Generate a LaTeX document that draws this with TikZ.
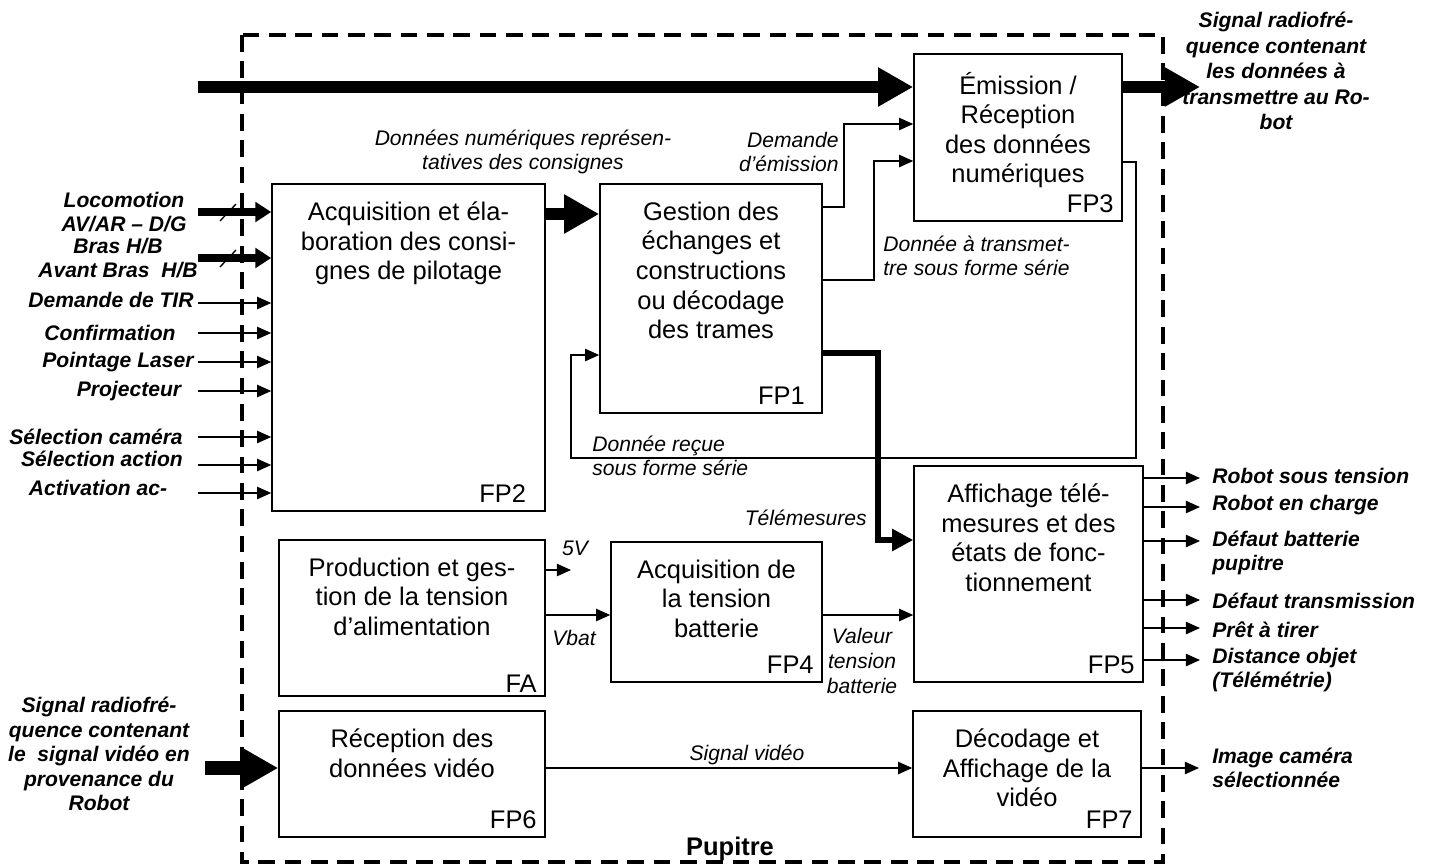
\documentclass[tikz,border=0pt]{standalone}
\usepackage{fontspec}
\setmainfont{Liberation Sans}
\usetikzlibrary{arrows.meta,positioning,fit}

\begin{document}
\begin{tikzpicture}[x=0.02cm,y=-0.02cm,
        bloc/.style={draw,line width=0.9pt,inner sep=0pt},
        titre/.style={align=center,inner sep=0pt,font=\fontsize{14.5}{16.8}\selectfont},
        num/.style={anchor=south east,inner xsep=5pt,inner ysep=5pt,font=\fontsize{14.5}{17}\selectfont},
        lbl/.style={inner sep=0pt,font=\fontsize{12}{14}\selectfont\itshape},
        ext/.style={inner sep=0pt,font=\fontsize{12}{13.5}\selectfont\bfseries\itshape},
        fleche/.style={line width=0.75pt,-{Triangle[length=8pt,width=7pt]}},
        bus/.style={line width=4pt,-{Triangle[length=9pt,width=11pt]}},
        gros/.style={line width=6.8pt,-{Triangle[length=20pt,width=21pt]}},
        tele/.style={line width=3.6pt,-{Triangle[length=12pt,width=12pt]}}]
        \useasboundingbox (0,0) rectangle (1431,866);

        \draw[line width=2pt,dash pattern=on 9.5pt off 5.5pt] (242,35) rectangle (1163,862);
        \node[font=\fontsize{14.5}{16}\selectfont\bfseries,inner sep=0pt] (lp) at (730,849) {Pupitre};

        \node[bloc,fit={(272,184) (545,511)}] (fp2) {};
        \node[bloc,fit={(600,184) (822,413)}] (fp1) {};
        \node[bloc,fit={(914,54) (1122,221)}] (fp3) {};
        \node[bloc,fit={(914,466) (1143,682)}] (fp5) {};
        \node[bloc,fit={(279,540) (545,696)}] (fa) {};
        \node[bloc,fit={(611,542) (822,682)}] (fp4) {};
        \node[bloc,fit={(279,711) (545,837)}] (fp6) {};
        \node[bloc,fit={(913,711) (1141,837)}] (fp7) {};

        \node[titre,below=10.5pt of fp2.north] (t2) {Acquisition et éla-\\boration des consi-\\gnes de pilotage};
        \node[titre,below=10.5pt of fp1.north] (t1) {Gestion des\\échanges et\\constructions\\ou décodage\\des trames};
        \node[titre,below=10.5pt of fp3.north] (t3) {Émission /\\Réception\\des données\\numériques};
        \node[titre,below=10.5pt of fp5.north] (t5) {Affichage télé-\\mesures et des\\états de fonc-\\tionnement};
        \node[titre,below=10.5pt of fa.north] (ta) {Production et ges-\\tion de la tension\\d’alimentation};
        \node[titre,below=10.5pt of fp4.north] (t4) {Acquisition de\\la tension\\batterie};
        \node[titre,below=10.5pt of fp6.north] (t6) {Réception des\\données vidéo};
        \node[titre,below=10.5pt of fp7.north] (t7) {Décodage et\\Affichage de la\\vidéo};

        \node[num,inner xsep=11pt] at (fp2.south east) {FP2};
        \node[num,inner xsep=10pt] at (fp1.south east) {FP1};
        \node[num] at (fp3.south east) {FP3};
        \node[num] at (fp5.south east) {FP5};
        \node[num,inner ysep=2pt] at (fa.south east) {FA};
        \node[num] at (fp4.south east) {FP4};
        \node[num] at (fp6.south east) {FP6};
        \node[num] at (fp7.south east) {FP7};

        \coordinate (e1) at (198,212);
        \coordinate (e2) at (198,258);
        \draw[bus] (e1) -- (e1 -| fp2.west);
        \draw[bus] (e2) -- (e2 -| fp2.west);
        \draw[line width=0.75pt] (220,221) -- (236,204) (220,267) -- (236,250);
        \node[ext,align=center] (l1) at (124,212) {Locomotion\\AV/AR – D/G};
        \node[ext,align=center] (l2) at (118,258) {Bras H/B\\Avant Bras\ \ H/B};
        \foreach \y/\ly/\x/\t [count=\i from 3] in {303/300/111/Demande de TIR, 333/333/110/Confirmation,
                362/362/118/Pointage Laser, 391/391/129/Projecteur, 437/437/96/Sélection caméra,
                465/459/102/Sélection action, 493/488/98/Activation ac-}{
            \coordinate (e\i) at (198,\y);
            \draw[fleche] (e\i) -- (e\i -| fp2.west);
            \node[ext] (l\i) at (\x,\ly) {\t};
        }

        \coordinate (rf) at (198,87);
        \coordinate (rfo) at (1200,87);
        \draw[gros] (rf) -- (rf -| fp3.west);
        \draw[gros] (fp3.east |- rfo) -- (rfo);
        \node[ext,align=center,font=\fontsize{12}{14.5}\selectfont\bfseries\itshape] (lrf) at (1276,71)
            {Signal radiofré-\\quence contenant\\les données à\\transmettre au Ro-\\bot};

        \draw[gros] (fp2.east |- 0,214) -- (fp1.west |- 0,214);
        \node[lbl,align=center] (ldn) at (523,152) {Données numériques représen-\\tatives des consignes};

        \draw[fleche] (fp1.east |- 0,207) -| (844,124) -- (fp3.west |- 0,124);
        \node[lbl,align=right,anchor=east] (lde) at (839,152) {Demande\\d’émission};
        \draw[fleche] (fp1.east |- 0,280) -| (874,161) -- (fp3.west |- 0,161);
        \node[lbl,align=left,anchor=west] (ldt) at (883,256) {Donnée à transmet-\\tre sous forme série};
        \draw[fleche] (fp3.east |- 0,162) -| (1136,458) -| (571,355) -- (fp1.west |- 0,355);
        \node[lbl,align=left,anchor=west] (ldr) at (592,456) {Donnée reçue\\sous forme série};
        \draw[tele] (fp1.east |- 0,353) -| (878,540) -- (fp5.west |- 0,540);
        \node[lbl,anchor=east] (ltm) at (867,518) {Télémesures};

        \coordinate (v5) at (571,570);
        \draw[fleche] (fa.east |- v5) -- (v5);
        \node[lbl] (l5v) at (575,548) {5V};
        \draw[fleche] (fa.east |- 0,615) -- (fp4.west |- 0,615);
        \node[lbl] (lvb) at (574,638) {Vbat};
        \draw[fleche] (fp4.east |- 0,615) -- (fp5.west |- 0,615);
        \node[lbl,align=center] (lvt) at (862,661) {Valeur\\tension\\batterie};

        \foreach \y/\ly/\t [count=\i] in {478/476/Robot sous tension, 507/505/Robot en charge,
                541/553/{Défaut batterie\\pupitre}, 600/601/Défaut transmission, 628/630/Prêt à tirer,
                660/670/{Distance objet\\(Télémétrie)}}{
            \coordinate (s\i) at (1200,\y);
            \draw[fleche] (fp5.east |- s\i) -- (s\i);
            \node[ext,anchor=west,align=left] (ls\i) at (1212,\ly) {\t};
        }

        \coordinate (rv) at (205,768);
        \draw[gros,line width=7.5pt] (rv) -- (rv -| fp6.west);
        \node[ext,align=center,font=\fontsize{12}{13.9}\selectfont\bfseries\itshape] (lrv) at (99,754)
            {Signal radiofré-\\quence contenant\\le\ \ signal vidéo en\\provenance du\\Robot};
        \draw[fleche] (fp6.east |- 0,768) -- (fp7.west |- 0,768);
        \node[lbl] (lsv) at (747,755) {Signal vidéo};
        \coordinate (sv) at (1199,768);
        \draw[fleche] (fp7.east |- sv) -- (sv);
        \node[ext,anchor=west,align=left] (lim) at (1212,768) {Image caméra\\sélectionnée};
\end{tikzpicture}
\end{document}
